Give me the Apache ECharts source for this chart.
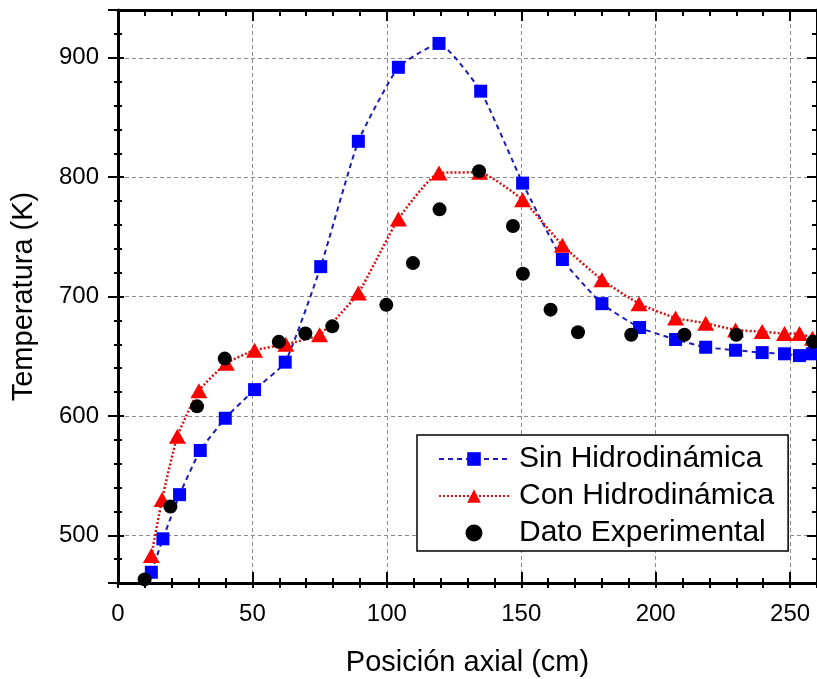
<!DOCTYPE html>
<html>
<head>
<meta charset="utf-8">
<script src="https://cdn.jsdelivr.net/npm/echarts@6/dist/echarts.min.js"></script>
<style>html,body{margin:0;padding:0;background:#fff}#c{width:817px;height:679px}</style>
</head>
<body>
<div id="c"></div>
<script>
// ---- Data ----
const seriesNames = ['Sin Hidrodinámica', 'Con Hidrodinámica', 'Dato Experimental'];

const sinX = [12.4, 16.7, 22.9, 30.6, 39.9, 50.8, 62.2, 75.4, 89.4, 104.3, 119.4, 134.9, 150.5, 165.3, 180, 194, 207.4, 218.6, 229.7, 239.6, 247.9, 253.5, 258.3];
const sinY = [469, 497, 534, 571, 598, 622, 645, 725, 830, 892, 912, 872, 795, 731, 694, 674, 664, 657.5, 655, 653, 652, 650.5, 652];

const conX = [12.4, 16.4, 22.1, 30.1, 40.3, 50.8, 62.4, 75, 89.4, 104.3, 119.4, 134.5, 150.5, 165.3, 180, 193.8, 207.4, 218.6, 229.7, 239.6, 247.9, 253.5, 258.3];
const conY = [483, 530, 583, 621, 644, 655, 660, 668, 703, 765, 803.5, 804, 781, 743, 714, 694, 682, 677.6, 672, 670.6, 669, 669, 665];

const expX = [9.9, 19.5, 29.4, 39.7, 59.8, 69.7, 79.7, 99.8, 109.7, 119.6, 134.3, 146.9, 150.6, 160.9, 171.1, 190.9, 210.7, 230, 258.5];
const expY = [463, 524, 608, 648, 662, 669, 675, 693, 728, 773, 805, 759, 719, 689, 670, 668, 668, 668, 662];

const xTitle = 'Posición axial (cm)';
const yTitle = 'Temperatura (K)';
const xRange = [0, 260];
const yRange = [460, 940];

// ---- Chart ----
const FONT = '"Liberation Sans", Arial, sans-serif';
const zip = (a, b) => a.map((v, i) => [v, b[i]]);
const tickStyle = {color: '#000', width: 2};
const axisLineStyle = {color: '#000', width: 3};

function tickAxis(kind, position, interval, inside, len, showLine) {
  const ax = {
    type: 'value', position: position, min: kind === 'x' ? xRange[0] : yRange[0],
    max: kind === 'x' ? xRange[1] : yRange[1],
    axisLine: {show: !!showLine, onZero: false, lineStyle: axisLineStyle},
    axisTick: {show: true, inside: inside, length: len, lineStyle: tickStyle},
    axisLabel: {show: false},
    splitLine: {show: false}
  };
  if (interval) ax.interval = interval; else ax.splitNumber = 5;
  return ax;
}

const chart = echarts.init(document.getElementById('c'), null, {renderer: 'canvas'});
chart.setOption({
  animation: false,
  backgroundColor: '#fff',
  grid: {left: 118, right: 0, top: 10, bottom: 96, containLabel: false, outerBoundsMode: 'none'},
  xAxis: [
    {
      type: 'value', position: 'bottom', min: xRange[0], max: xRange[1], interval: 50,
      axisLine: {show: true, onZero: false, lineStyle: axisLineStyle},
      axisTick: {show: true, inside: true, length: 11, lineStyle: tickStyle},
      axisLabel: {fontSize: 24, color: '#000', fontFamily: FONT, margin: 19,
        formatter: v => (v % 50 === 0 ? String(v) : '')},
      splitLine: {show: true, lineStyle: {color: '#8c8c8c', type: [4, 3], width: 1}},
      name: xTitle, nameLocation: 'middle', nameGap: 65,
      nameTextStyle: {fontSize: 29, color: '#000', fontFamily: FONT}
    },
    tickAxis('x', 'bottom', 10, false, 5, false),
    tickAxis('x', 'bottom', 10, true, 5, false),
    tickAxis('x', 'top', 50, true, 11, true),
    tickAxis('x', 'top', 10, true, 6, false)
  ],
  yAxis: [
    {
      type: 'value', position: 'left', min: yRange[0], max: yRange[1], splitNumber: 5,
      axisLine: {show: true, onZero: false, lineStyle: axisLineStyle},
      axisTick: {show: true, inside: false, length: 10, lineStyle: tickStyle},
      axisLabel: {fontSize: 24, color: '#000', fontFamily: FONT, margin: 19,
        formatter: v => (v % 100 === 0 ? String(v) : '')},
      splitLine: {show: true, lineStyle: {color: '#8c8c8c', type: [4, 3], width: 1}},
      name: yTitle, nameLocation: 'middle', nameGap: 80,
      nameTextStyle: {fontSize: 29, color: '#000', fontFamily: FONT}
    },
    tickAxis('y', 'left', 20, false, 4, false),
    tickAxis('y', 'left', 20, true, 4, false),
    tickAxis('y', 'left', 0, true, 6, false),
    tickAxis('y', 'right', 0, true, 10, true),
    tickAxis('y', 'right', 20, true, 5, false)
  ],
  legend: {
    left: 417, top: 435, orient: 'vertical',
    itemWidth: 70, itemHeight: 17, itemGap: 7,
    padding: [9, 14, 3, 21],
    borderColor: '#000', borderWidth: 1.5, backgroundColor: '#fff',
    selectedMode: false,
    textStyle: {fontSize: 30, fontFamily: FONT, color: '#000', padding: [0, 0, 0, 5]},
    data: seriesNames
  },
  series: [
    {
      type: 'line', name: seriesNames[0], data: zip(sinX, sinY), smooth: 0.15,
      symbol: 'rect', symbolSize: 13,
      itemStyle: {color: '#0000ff', opacity: 1},
      lineStyle: {color: '#1c1cb4', width: 2, type: [5, 4]},
      z: 3
    },
    {
      type: 'line', name: seriesNames[1], data: zip(conX, conY), smooth: 0.15,
      symbol: 'triangle', symbolSize: [17, 15],
      itemStyle: {color: '#ff0000', opacity: 1},
      lineStyle: {color: '#d41414', width: 2.5, type: [2, 2]},
      z: 4
    },
    {
      type: 'scatter', name: seriesNames[2], data: zip(expX, expY),
      symbol: 'circle', symbolSize: 14,
      itemStyle: {color: '#000', opacity: 1},
      z: 5
    }
  ]
});
</script>
</body>
</html>
